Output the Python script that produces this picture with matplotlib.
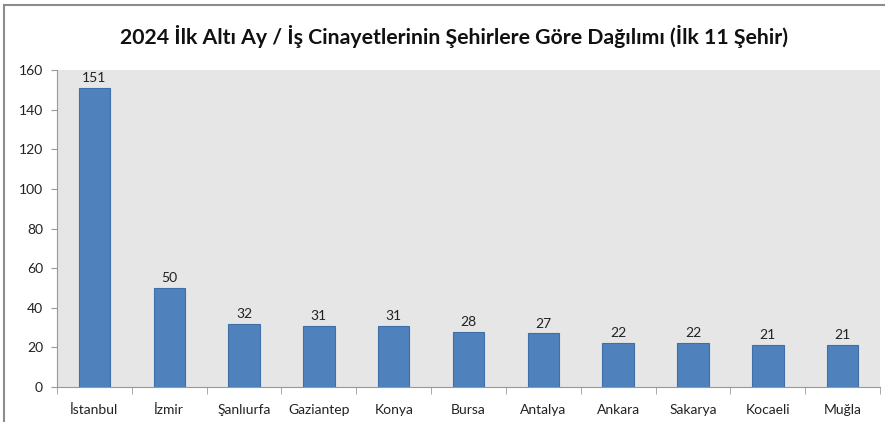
import matplotlib.pyplot as plt
from matplotlib.patches import Rectangle

plt.rcParams['font.family'] = ['Lato', 'DejaVu Sans']

# data
cities = ['İstanbul', 'İzmir', 'Şanlıurfa', 'Gaziantep', 'Konya', 'Bursa',
          'Antalya', 'Ankara', 'Sakarya', 'Kocaeli', 'Muğla']
deaths = [151, 50, 32, 31, 31, 28, 27, 22, 22, 21, 21]
yticks = [0, 20, 40, 60, 80, 100, 120, 140, 160]

fig = plt.figure(figsize=(8.85, 4.22), dpi=100)
ax = fig.add_axes([0.0644, 0.083, 0.930, 0.751])

# outer frame of the chart
fig.patches.append(Rectangle((0.004, -0.02), 1.1, 1.008, transform=fig.transFigure,
                             fill=False, edgecolor='#8c8c8c', linewidth=1.5))

ax.set_facecolor('#e6e6e6')
x = range(len(cities))
bars = ax.bar(x, deaths, width=0.42, color='#4f81bd', edgecolor='#3f6fa8', linewidth=0.8, zorder=3)

for xi, v in zip(x, deaths):
    ax.text(xi, v + 2, str(v), ha='center', va='bottom', fontsize=10, color='#222222')

ax.set_xlim(-0.5, len(cities) - 0.5)
ax.set_ylim(0, 160)
ax.set_yticks(yticks)
ax.set_yticklabels([str(t) for t in yticks], fontsize=10, color='#222222')

ax.set_xticks(list(x))
ax.set_xticklabels(cities, fontsize=10, color='#222222')
ax.tick_params(axis='x', length=0, pad=12)
ax.set_xticks([i - 0.5 for i in range(len(cities) + 1)], minor=True)
ax.tick_params(axis='x', which='minor', length=5, color='#999999', direction='out')
ax.tick_params(axis='y', length=4, color='#999999', direction='out', pad=6)

for s in ['top', 'right']:
    ax.spines[s].set_visible(False)
ax.spines['left'].set_color('#999999')
ax.spines['bottom'].set_color('#999999')

fig.text(0.513, 0.913, '2024 İlk Altı Ay / İş Cinayetlerinin Şehirlere Göre Dağılımı (İlk 11 Şehir)',
         ha='center', va='center', fontsize=15.3, fontweight='bold', color='#111111')

plt.savefig('out.png', dpi=100)
